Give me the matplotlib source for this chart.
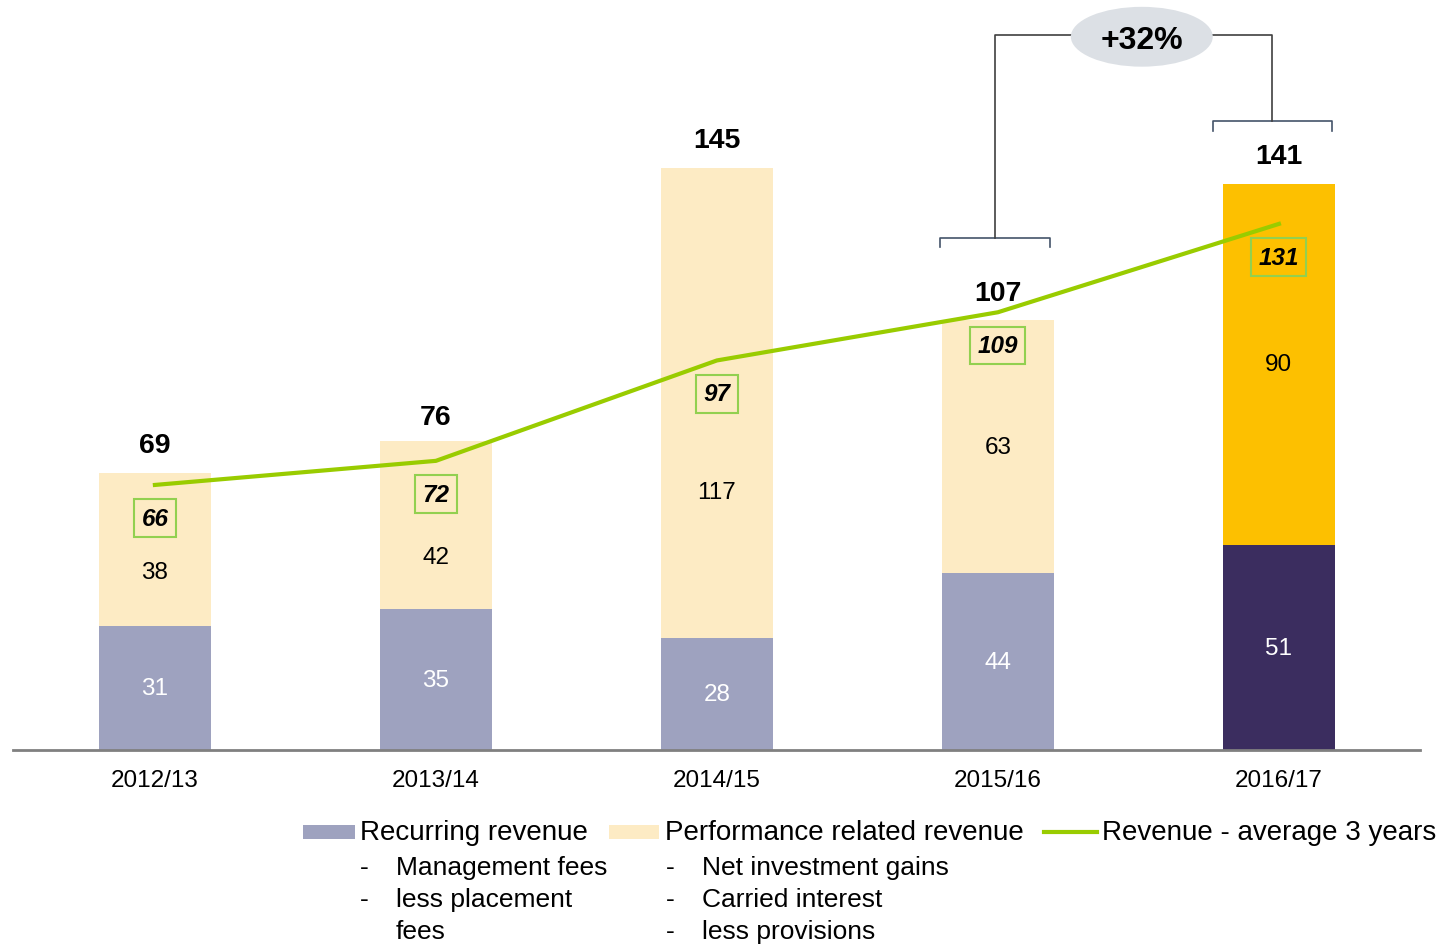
import matplotlib.pyplot as plt
from matplotlib.patches import Rectangle, Ellipse
from matplotlib.lines import Line2D

plt.rcParams['font.family'] = ['Liberation Sans', 'DejaVu Sans']

years = ['2012/13', '2013/14', '2014/15', '2015/16', '2016/17']
recurring = [31, 35, 28, 44, 51]
performance = [38, 42, 117, 63, 90]
totals = [69, 76, 145, 107, 141]
avg_3y = [66, 72, 97, 109, 131]
growth_label = '+32%'

rec_colors = ['#9ea2bf'] * 4 + ['#3b2d5f']
perf_colors = ['#fdebc4'] * 4 + ['#fdc000']
rec_text = ['white'] * 5
perf_text = ['black'] * 5
perf_label_frac = [0.35, 0.31, 0.31, 0.5, 0.5]  # where the perf label sits inside the segment
line_color = '#99cc00'

W, H = 1443, 945
fig = plt.figure(figsize=(W / 100, H / 100), dpi=100)
ax = fig.add_axes([13 / W, (H - 751) / H, 1407 / W, 751 / H])

x = list(range(len(years)))
ax.bar(x, recurring, width=0.4, color=rec_colors, zorder=2)
ax.bar(x, performance, width=0.4, bottom=recurring, color=perf_colors, zorder=2)
ax.plot(x, avg_3y, color=line_color, lw=3, zorder=3)

for i in x:
    ax.text(i, recurring[i] / 2, str(recurring[i]), ha='center', va='center',
            fontsize=17.5, color=rec_text[i], zorder=4)
    ax.text(i, recurring[i] + performance[i] * perf_label_frac[i], str(performance[i]),
            ha='center', va='center', fontsize=17.5, color=perf_text[i], zorder=4)
    ax.annotate(str(totals[i]), (i, totals[i]), xytext=(0, 20), textcoords='offset points',
                ha='center', va='center', fontsize=20.5, fontweight='bold', zorder=4)
    ax.annotate(str(avg_3y[i]), (i, avg_3y[i]), xytext=(0, -24), textcoords='offset points',
                ha='center', va='center', fontsize=17.5, fontweight='bold', style='italic', zorder=5,
                bbox=dict(boxstyle='square,pad=0.3', fc='none', ec='#92d050', lw=1.5))

# growth bracket between the last two years
bk = '#44546a'
lb_y, rb_y, top_y = 127.6, 156.5, 178.0
lc, rc = 2.99, 3.977
ax.plot([lc - 0.195, lc - 0.195, lc + 0.195, lc + 0.195], [lb_y - 2.3, lb_y, lb_y, lb_y - 2.3], color=bk, lw=1.2, zorder=4)
ax.plot([rc - 0.212, rc - 0.212, rc + 0.212, rc + 0.212], [rb_y - 2.3, rb_y, rb_y, rb_y - 2.3], color=bk, lw=1.2, zorder=4)
ax.plot([lc, lc, 3.3], [lb_y, top_y, top_y], color='#404040', lw=1.2, zorder=4)
ax.plot([3.7, rc, rc], [top_y, top_y, rb_y], color='#404040', lw=1.2, zorder=4)
ax.add_patch(Ellipse((3.512, 177.6), 0.505, 14.9, fc='#dce0e5', ec='none', zorder=5))
ax.text(3.512, 176.8, growth_label, ha='center', va='center', fontsize=23, fontweight='bold', zorder=6)

ax.set_xlim(-0.505, 4.502)
ax.set_ylim(0, 187)
ax.set_xticks(x)
ax.set_xticklabels(years, fontsize=17.5)
ax.tick_params(axis='x', length=0, pad=14)
ax.set_yticks([])
for s in ['top', 'right', 'left']:
    ax.spines[s].set_visible(False)
ax.spines['bottom'].set_color('#808080')
ax.spines['bottom'].set_linewidth(2)
ax.patch.set_visible(False)

# custom legend
def fx(px):
    return px / W

def fy(py):
    return 1 - py / H

fig.patches.append(Rectangle((fx(303), fy(840)), 52 / W, 14 / H, transform=fig.transFigure, fc='#9ea2bf', ec='none'))
fig.patches.append(Rectangle((fx(609), fy(840)), 50 / W, 14 / H, transform=fig.transFigure, fc='#fdebc4', ec='none'))
fig.lines.append(Line2D([fx(1044), fx(1097)], [fy(833), fy(833)], transform=fig.transFigure, color=line_color, lw=3))

fig.text(fx(360), fy(833), 'Recurring revenue', fontsize=20, va='center')
fig.text(fx(665), fy(833), 'Performance related revenue', fontsize=20, va='center')
fig.text(fx(1102), fy(833), 'Revenue - average 3 years', fontsize=20, va='center')

rec_items = [('-', 'Management fees'), ('-', 'less placement'), ('', 'fees')]
perf_items = [('-', 'Net investment gains'), ('-', 'Carried interest'), ('-', 'less provisions')]
rows = [868, 900, 932]
for (d, t), r in zip(rec_items, rows):
    fig.text(fx(360), fy(r), d, fontsize=19, va='center')
    fig.text(fx(396), fy(r), t, fontsize=19, va='center')
for (d, t), r in zip(perf_items, rows):
    fig.text(fx(666), fy(r), d, fontsize=19, va='center')
    fig.text(fx(702), fy(r), t, fontsize=19, va='center')

fig.savefig('out.png', dpi=100)
